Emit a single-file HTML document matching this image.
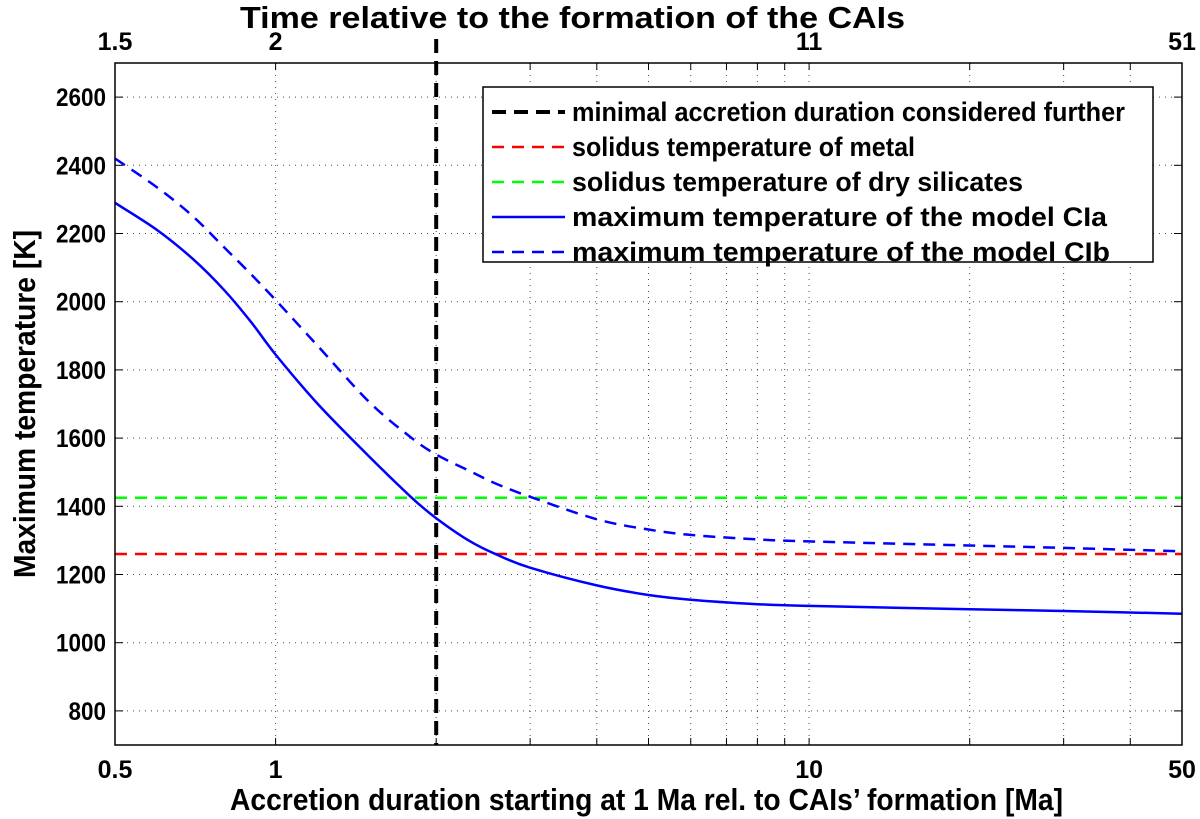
<!DOCTYPE html>
<html><head><meta charset="utf-8"><style>
html,body{margin:0;padding:0;background:#fff;}
svg{display:block;font-family:"Liberation Sans",Arial,sans-serif;font-weight:bold;}
</style></head><body>
<svg id="chart" width="1200" height="819" xmlns="http://www.w3.org/2000/svg"></svg>
<script>
const cats=[0.5,0.6,0.7,0.8,0.9,1,1.2,1.5,1.8,2,2.3,2.6,3,4,5,6,8,10,20,30,50];
const ciaVals=[2290,2210,2125,2035,1940,1845,1700,1545,1425,1365,1300,1258,1220,1168,1140,1126,1113,1108,1098,1093,1085];
const cibVals=[2420,2335,2250,2160,2080,2005,1870,1705,1600,1552,1505,1465,1428,1362,1332,1316,1303,1297,1285,1278,1268];
const metalSolidus=1260;
const silicateSolidus=1425;
const minDuration=2;
const yTicks=[800,1000,1200,1400,1600,1800,2000,2200,2400,2600];
const xTickLabels=["0.5","1","10","50"];
const xTickVals=[0.5,1,10,50];
const topTickLabels=["1.5","2","11","51"];

const L=115,R=1182,T=63,B=745;
const NS="http://www.w3.org/2000/svg";
const svg=document.getElementById('chart');
function X(v){return L+(Math.log10(v)-Math.log10(0.5))/(Math.log10(50)-Math.log10(0.5))*(R-L);}
function Y(v){return B-(v-700)/(2700-700)*(B-T);}
function el(tag,attrs,parent){const e=document.createElementNS(NS,tag);for(const k in attrs)e.setAttribute(k,attrs[k]);(parent||svg).appendChild(e);return e;}

const grid=el('g',{});


const gx=[1,2,3,4,5,6,7,8,9,10,20,30,40];
gx.forEach(v=>{el('line',{x1:X(v),x2:X(v),y1:T,y2:B,stroke:'#000','stroke-width':1,'stroke-dasharray':'1,5',opacity:0.7},grid);
 el('line',{x1:X(v),x2:X(v),y1:B,y2:B-7,stroke:'#000','stroke-width':1},grid);
 el('line',{x1:X(v),x2:X(v),y1:T,y2:T+7,stroke:'#000','stroke-width':1},grid);});
yTicks.forEach(v=>{el('line',{x1:L,x2:R,y1:Y(v),y2:Y(v),stroke:'#000','stroke-width':1,'stroke-dasharray':'1,5',opacity:0.7},grid);
 el('line',{x1:L,x2:L+8,y1:Y(v),y2:Y(v),stroke:'#000'},grid);
 el('line',{x1:R,x2:R-8,y1:Y(v),y2:Y(v),stroke:'#000'},grid);
 const t=el('text',{x:L-9,y:Y(v)+9,'text-anchor':'end','font-size':25,textLength:String(v).length*12.5,lengthAdjust:'spacingAndGlyphs'},grid);t.textContent=v;
 
 });
xTickVals.forEach((v,i)=>{const t=el('text',{x:X(v),y:778,'text-anchor':'middle','font-size':25});t.textContent=xTickLabels[i];
 
 
 const u=el('text',{x:X(v),y:50,'text-anchor':'middle','font-size':25});u.textContent=topTickLabels[i];
 
 });

const red=el('line',{x1:L,x2:R,y1:Y(metalSolidus),y2:Y(metalSolidus),stroke:'#ff0000','stroke-width':2.5,'stroke-dasharray':'12,8'});


const green=el('line',{x1:L,x2:R,y1:Y(silicateSolidus),y2:Y(silicateSolidus),stroke:'#00ff00','stroke-width':2.5,'stroke-dasharray':'12,8'});



function path(vals){
 const p=cats.map((c,i)=>[X(c),Y(vals[i])]);
 let d='M'+p[0][0].toFixed(1)+','+p[0][1].toFixed(1);
 for(let i=0;i<p.length-1;i++){
  const p0=p[Math.max(0,i-1)],p1=p[i],p2=p[i+1],p3=p[Math.min(p.length-1,i+2)];
  const c1=[p1[0]+(p2[0]-p0[0])/6,p1[1]+(p2[1]-p0[1])/6];
  const c2=[p2[0]-(p3[0]-p1[0])/6,p2[1]-(p3[1]-p1[1])/6];
  d+=' C'+c1[0].toFixed(1)+','+c1[1].toFixed(1)+' '+c2[0].toFixed(1)+','+c2[1].toFixed(1)+' '+p2[0].toFixed(1)+','+p2[1].toFixed(1);
 }
 return d;
}
const cia=el('path',{d:path(ciaVals),fill:'none',stroke:'#0000ff','stroke-width':2.5});


const cib=el('path',{d:path(cibVals),fill:'none',stroke:'#0000ff','stroke-width':2.5,'stroke-dasharray':'12,8'});


const vl=el('line',{x1:X(minDuration),x2:X(minDuration),y1:T-24,y2:B,stroke:'#000','stroke-width':4,'stroke-dasharray':'14,8'});



el('rect',{x:L,y:T,width:R-L,height:B-T,fill:'none',stroke:'#000','stroke-width':1.5});

const lg=el('g',{});


el('rect',{x:483,y:87,width:670,height:175,fill:'#fff',stroke:'#000','stroke-width':1.5},lg);
const items=[["#000",'14,8',4,'minimal accretion duration considered further',553],["#ff0000",'12,8',2.5,'solidus temperature of metal',343],["#00ff00",'12,8',2.5,'solidus temperature of dry silicates',451],["#0000ff",'',2.5,'maximum temperature of the model CIa',535],["#0000ff",'12,8',2.5,'maximum temperature of the model CIb',538]];
items.forEach((it,i)=>{const y=112+i*35;
 const g=el('g',{},lg);
 
 
 const a={x1:492,x2:565,y1:y,y2:y,stroke:it[0],'stroke-width':it[2]};if(it[1])a['stroke-dasharray']=it[1];el('line',a,g);
 const t=el('text',{x:572,y:y+9,'font-size':27,textLength:it[4],lengthAdjust:'spacingAndGlyphs'},g);t.textContent=it[3];});

const xt=el('text',{x:230,y:810,'font-size':31,textLength:833,lengthAdjust:'spacingAndGlyphs'});xt.textContent='Accretion duration starting at 1 Ma rel. to CAIs\u2019 formation [Ma]';


const tt=el('text',{x:240,y:28,'font-size':31,textLength:665,lengthAdjust:'spacingAndGlyphs'});tt.textContent='Time relative to the formation of the CAIs';


const yt=el('text',{x:0,y:0,'font-size':31,textLength:348,lengthAdjust:'spacingAndGlyphs',transform:'translate(35,578) rotate(-90)'});yt.textContent='Maximum temperature [K]';


</script>
</body></html>
